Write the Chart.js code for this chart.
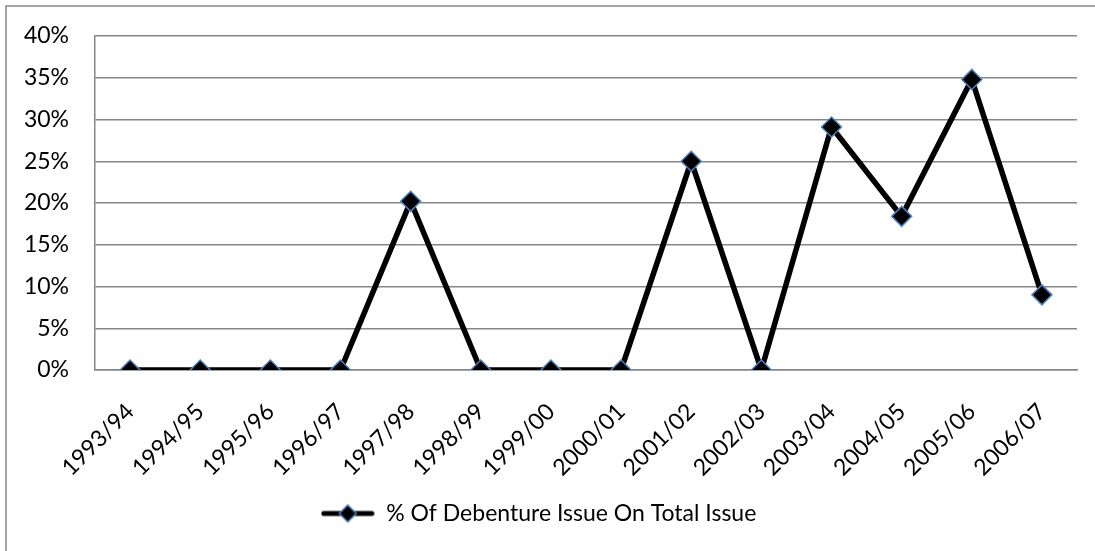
<!DOCTYPE html>
<html>
<head>
<meta charset="utf-8">
<script src="https://cdn.jsdelivr.net/npm/chart.js@4.4.0/dist/chart.umd.min.js"></script>
<style>
  html, body { margin: 0; padding: 0; background: #fff; }
  #wrap { width: 1095px; height: 551px; position: relative; }
</style>
</head>
<body>
<div id="wrap"><canvas id="chart" width="1095" height="551"></canvas></div>
<script>
const years = ['1993/94', '1994/95', '1995/96', '1996/97', '1997/98', '1998/99', '1999/00',
    '2000/01', '2001/02', '2002/03', '2003/04', '2004/05', '2005/06', '2006/07'];
const debenturePct = [0, 0, 0, 0, 20.2, 0, 0, 0, 25.0, 0, 29.1, 18.4, 34.8, 9.0];
const seriesName = '% Of Debenture Issue On Total Issue';

const FONT = "Lato, 'Open Sans', sans-serif";
const GRID = '#868686';

// legend icon: thick line with a diamond marker
function legendIcon() {
    const c = document.createElement('canvas');
    c.width = 54; c.height = 22;
    const g = c.getContext('2d');
    g.strokeStyle = '#000';
    g.lineWidth = 5;
    g.lineCap = 'round';
    g.beginPath(); g.moveTo(3, 11); g.lineTo(51, 11); g.stroke();
    g.fillStyle = '#000';
    g.strokeStyle = '#4f81bd';
    g.lineWidth = 1.5;
    g.beginPath();
    g.moveTo(27, 2.5); g.lineTo(35.5, 11); g.lineTo(27, 19.5); g.lineTo(18.5, 11); g.closePath();
    g.fill(); g.stroke();
    return c;
}
const icon = legendIcon();

const outerBorder = {
    id: 'outerBorder',
    beforeDraw(chart) {
        const ctx = chart.ctx;
        ctx.save();
        ctx.strokeStyle = GRID;
        ctx.lineWidth = 1.5;
        ctx.strokeRect(6, 6, 1200, 1200);
        ctx.restore();
    }
};

new Chart(document.getElementById('chart'), {
    type: 'line',
    data: {
        labels: years,
        datasets: [{
            label: seriesName,
            data: debenturePct,
            borderColor: '#000',
            borderWidth: 5.5,
            tension: 0,
            pointStyle: 'rectRot',
            pointRadius: 10,
            pointHoverRadius: 10,
            pointBackgroundColor: '#000',
            pointBorderColor: '#4f81bd',
            pointBorderWidth: 1.5
        }]
    },
    options: {
        responsive: false,
        animation: false,
        layout: { padding: { left: 0, right: 18, top: 36, bottom: 16 } },
        plugins: {
            tooltip: { enabled: false },
            legend: {
                position: 'bottom',
                labels: {
                    font: { family: FONT, size: 23 },
                    color: '#000',
                    usePointStyle: true,
                    pointStyleWidth: 54,
                    padding: 10,
                    generateLabels: (chart) => [{
                        text: seriesName,
                        pointStyle: icon,
                        fillStyle: '#000',
                        strokeStyle: '#000',
                        lineWidth: 0,
                        datasetIndex: 0
                    }]
                }
            }
        },
        scales: {
            x: {
                offset: true,
                grid: { display: false, drawTicks: false },
                border: { color: GRID, width: 1.5 },
                ticks: {
                    font: { family: FONT, size: 23 },
                    color: '#000',
                    minRotation: 45,
                    maxRotation: 45,
                    padding: 28,
                    autoSkip: false
                },
                afterFit: (s) => { s.height = 122; }
            },
            y: {
                min: 0,
                max: 40,
                grid: { color: GRID, lineWidth: 1.5, drawTicks: false },
                border: { color: GRID, width: 1.5 },
                ticks: {
                    stepSize: 5,
                    font: { family: FONT, size: 23 },
                    color: '#000',
                    padding: 26,
                    callback: (v) => v + '%'
                },
                afterFit: (s) => { s.width = 95; s.paddingTop = 0; s.paddingBottom = 0; }
            }
        }
    },
    plugins: [outerBorder]
});
</script>
</body>
</html>
